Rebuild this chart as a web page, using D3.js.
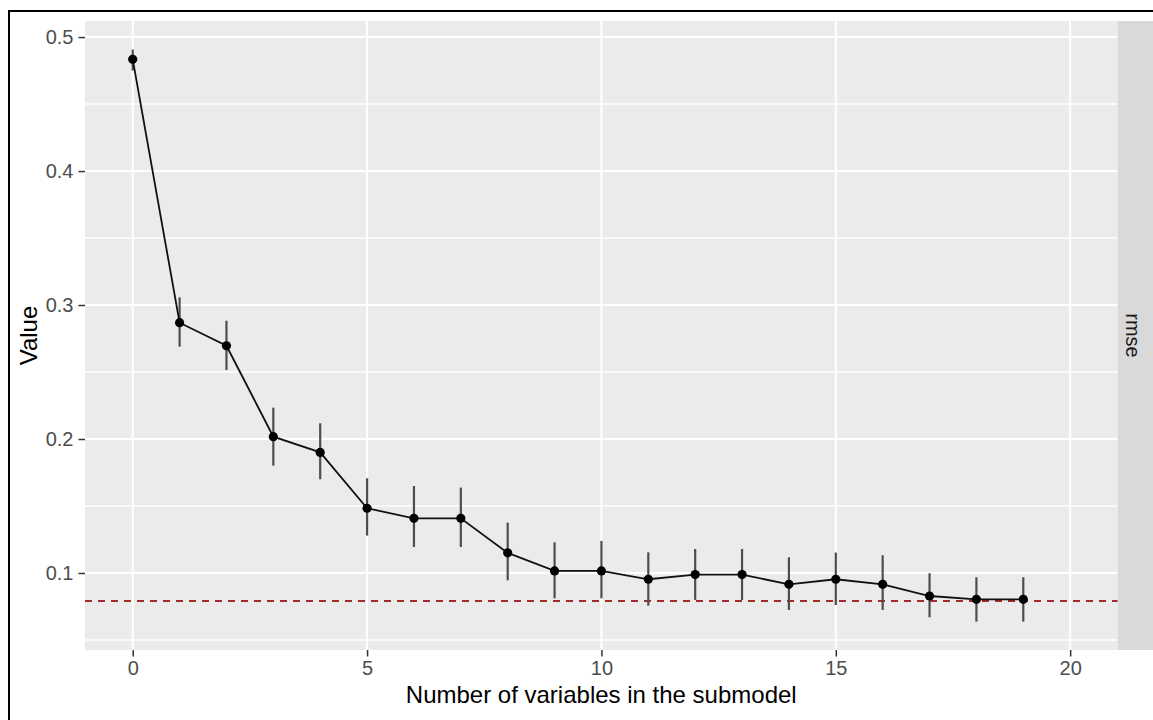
<!DOCTYPE html>
<html>
<head>
<meta charset="utf-8">
<script src="https://cdn.jsdelivr.net/npm/d3@7"></script>
<style>
  html, body { margin: 0; padding: 0; background: #ffffff; }
  svg { display: block; }
</style>
</head>
<body>
<div id="chart"></div>
<script>

// number of variables in each submodel
var nvars = [0, 1, 2, 3, 4, 5, 6, 7, 8, 9, 10, 11, 12, 13, 14, 15, 16, 17, 18, 19];

// rmse value of each submodel
var rmse = [0.4834, 0.2868, 0.2696, 0.2017, 0.1900, 0.1483, 0.1408, 0.1408, 0.1150, 0.1015,
            0.1015, 0.0953, 0.0988, 0.0988, 0.0915, 0.0953, 0.0915, 0.0828, 0.0803, 0.0803];

// lower and upper ends of the error bars
var lower = [0.4750, 0.2689, 0.2515, 0.1801, 0.1699, 0.1279, 0.1194, 0.1194, 0.0945, 0.0811,
             0.0811, 0.0756, 0.0799, 0.0799, 0.0724, 0.0761, 0.0724, 0.0669, 0.0637, 0.0637];
var upper = [0.4907, 0.3057, 0.2883, 0.2234, 0.2117, 0.1707, 0.1649, 0.1637, 0.1375, 0.1229,
             0.1239, 0.1154, 0.1179, 0.1179, 0.1117, 0.1152, 0.1132, 0.0998, 0.0968, 0.0968];

// reference model value (dashed line)
var ref_value = 0.0791;

// tick values
var x_ticks = [0, 5, 10, 15, 20];
var y_ticks = [0.1, 0.2, 0.3, 0.4, 0.5];
var y_minor = [0.05, 0.15, 0.25, 0.35, 0.45];

// facet strip label and axis titles
var strip_label = "rmse";
var x_title = "Number of variables in the submodel";
var y_title = "Value";

var W = 1153, H = 720;
var panel = {left: 85, right: 1117.5, top: 21, bottom: 650};

var svg = d3.select("#chart")
    .append("svg")
    .attr("width", W)
    .attr("height", H);

// scales
var x = d3.scaleLinear()
    .domain([-1.018, 21.01])
    .range([panel.left, panel.right]);

var y = d3.scaleLinear()
    .domain([0.0425, 0.512])
    .range([panel.bottom, panel.top]);

// panel background
svg.append("rect")
    .attr("x", panel.left)
    .attr("y", panel.top)
    .attr("width", panel.right - panel.left)
    .attr("height", panel.bottom - panel.top)
    .attr("fill", "#EBEBEB");

// facet strip on the right
svg.append("rect")
    .attr("x", panel.right)
    .attr("y", panel.top)
    .attr("width", W - panel.right)
    .attr("height", panel.bottom - panel.top)
    .attr("fill", "#D9D9D9");

svg.append("text")
    .attr("transform", "translate(" + (panel.right + 8) + "," + ((panel.top + panel.bottom) / 2) + ") rotate(90)")
    .attr("text-anchor", "middle")
    .attr("font-family", "Liberation Sans, Arial, sans-serif")
    .attr("font-size", 20)
    .attr("fill", "#1A1A1A")
    .text(strip_label);

// grid lines
var grid = svg.append("g");

grid.selectAll(".yminor")
    .data(y_minor)
    .enter().append("line")
    .attr("x1", panel.left).attr("x2", panel.right)
    .attr("y1", function(d) { return y(d); })
    .attr("y2", function(d) { return y(d); })
    .attr("stroke", "#ffffff")
    .attr("stroke-width", 1.4);

grid.selectAll(".ymajor")
    .data(y_ticks)
    .enter().append("line")
    .attr("x1", panel.left).attr("x2", panel.right)
    .attr("y1", function(d) { return y(d); })
    .attr("y2", function(d) { return y(d); })
    .attr("stroke", "#ffffff")
    .attr("stroke-width", 2);

grid.selectAll(".xmajor")
    .data(x_ticks)
    .enter().append("line")
    .attr("y1", panel.top).attr("y2", panel.bottom)
    .attr("x1", function(d) { return x(d); })
    .attr("x2", function(d) { return x(d); })
    .attr("stroke", "#ffffff")
    .attr("stroke-width", 2);

// dashed reference line
svg.append("line")
    .attr("x1", panel.left).attr("x2", panel.right)
    .attr("y1", y(ref_value)).attr("y2", y(ref_value))
    .attr("stroke", "#A52A2A")
    .attr("stroke-width", 2)
    .attr("stroke-dasharray", "7,6");

// error bars
svg.append("g")
    .selectAll("line")
    .data(nvars)
    .enter().append("line")
    .attr("x1", function(d) { return x(d); })
    .attr("x2", function(d) { return x(d); })
    .attr("y1", function(d, i) { return y(lower[i]); })
    .attr("y2", function(d, i) { return y(upper[i]); })
    .attr("stroke", "#4d4d4d")
    .attr("stroke-width", 2.2);

// line through the points
var line = d3.line()
    .x(function(d) { return x(d); })
    .y(function(d, i) { return y(rmse[i]); });

svg.append("path")
    .datum(nvars)
    .attr("d", line)
    .attr("fill", "none")
    .attr("stroke", "#111111")
    .attr("stroke-width", 1.8);

// points
svg.append("g")
    .selectAll("circle")
    .data(nvars)
    .enter().append("circle")
    .attr("cx", function(d) { return x(d); })
    .attr("cy", function(d, i) { return y(rmse[i]); })
    .attr("r", 4.6)
    .attr("fill", "#000000");

// y axis
var yAxis = d3.axisLeft(y)
    .tickValues(y_ticks)
    .tickSize(6.5)
    .tickPadding(5)
    .tickFormat(d3.format(".1f"));

var gy = svg.append("g")
    .attr("transform", "translate(" + panel.left + ",0)")
    .call(yAxis);

// x axis
var xAxis = d3.axisBottom(x)
    .tickValues(x_ticks)
    .tickSize(6.5)
    .tickPadding(4)
    .tickFormat(d3.format("d"));

var gx = svg.append("g")
    .attr("transform", "translate(0," + panel.bottom + ")")
    .call(xAxis);

// style both axes like ggplot
[gx, gy].forEach(function(g) {
    g.select(".domain").remove();
    g.selectAll(".tick line")
        .attr("stroke", "#333333")
        .attr("stroke-width", 1.5);
    g.selectAll(".tick text")
        .attr("font-family", "Liberation Sans, Arial, sans-serif")
        .attr("font-size", 20)
        .attr("fill", "#4D4D4D");
});

// axis titles
svg.append("text")
    .attr("x", (panel.left + panel.right) / 2)
    .attr("y", 703)
    .attr("text-anchor", "middle")
    .attr("font-family", "Liberation Sans, Arial, sans-serif")
    .attr("font-size", 24)
    .attr("fill", "#000000")
    .text(x_title);

svg.append("text")
    .attr("transform", "translate(36.5," + ((panel.top + panel.bottom) / 2) + ") rotate(-90)")
    .attr("text-anchor", "middle")
    .attr("font-family", "Liberation Sans, Arial, sans-serif")
    .attr("font-size", 24)
    .attr("fill", "#000000")
    .text(y_title);

// black border at the top and left edges
svg.append("line")
    .attr("x1", 8).attr("x2", W)
    .attr("y1", 11).attr("y2", 11)
    .attr("stroke", "#000000")
    .attr("stroke-width", 2);

svg.append("line")
    .attr("x1", 9).attr("x2", 9)
    .attr("y1", 10).attr("y2", H)
    .attr("stroke", "#000000")
    .attr("stroke-width", 2);

</script>
</body>
</html>
